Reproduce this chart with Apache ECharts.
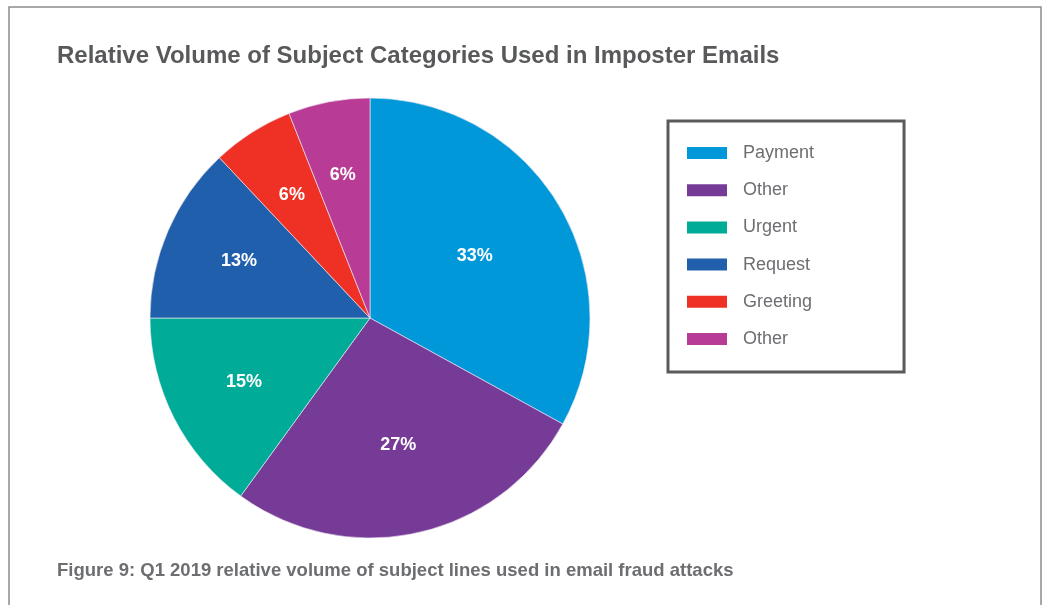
<!DOCTYPE html>
<html>
<head>
<meta charset="utf-8">
<title>Relative Volume of Subject Categories Used in Imposter Emails</title>
<script src="https://cdn.jsdelivr.net/npm/echarts@6/dist/echarts.min.js"></script>
<style>
  html, body { margin: 0; padding: 0; background: #fff; }
  #chart { width: 1044px; height: 605px; }
</style>
</head>
<body>
<div id="chart"></div>
<script>
// Subject categories (the two "Other" groups are kept apart by a trailing space)
const categories = ['Payment', 'Other', 'Urgent', 'Request', 'Greeting', 'Other '];
const shares = [33, 27, 15, 13, 6, 6];
const colors = ['#0098d8', '#763b96', '#00ab98', '#1f5fac', '#ee3124', '#b83c96'];

const FONT = '"Liberation Sans", Arial, Helvetica, sans-serif';

const pieData = categories.map((name, i) => ({
  name: name,
  value: shares[i],
  itemStyle: { color: colors[i] }
}));

const chart = echarts.init(document.getElementById('chart'), null, { renderer: 'canvas' });

// Place each percentage at the centroid of its sector, using the sector
// geometry computed by the pie layout.
function centroidLabel(params) {
  const series = chart.getModel().getSeriesByIndex(params.seriesIndex);
  const lay = series.getData().getItemLayout(params.dataIndex);
  const span = Math.abs(lay.endAngle - lay.startAngle);
  const mid = (lay.startAngle + lay.endAngle) / 2;
  const d = (4 * lay.r * Math.sin(span / 2)) / (3 * span);
  return {
    x: lay.cx + d * Math.cos(mid),
    y: lay.cy + d * Math.sin(mid),
    align: 'center',
    verticalAlign: 'middle'
  };
}

chart.setOption({
  backgroundColor: '#ffffff',
  animation: false,
  title: {
    text: 'Relative Volume of Subject Categories Used in Imposter Emails',
    left: 57,
    top: 44,
    padding: 0,
    textStyle: { fontFamily: FONT, fontSize: 24, fontWeight: 'bold', color: '#58595b' }
  },
  graphic: [
    {
      type: 'rect',
      shape: { x: 9, y: 7, width: 1032, height: 640 },
      style: { fill: 'none', stroke: '#8c8c8c', lineWidth: 1.5 },
      silent: true, z: -1
    },
    {
      type: 'text',
      left: 57,
      top: 561,
      style: {
        text: 'Figure 9: Q1 2019 relative volume of subject lines used in email fraud attacks',
        font: 'bold 18.5px ' + FONT,
        fill: '#6d6e71'
      }
    }
  ],
  legend: {
    orient: 'vertical',
    left: 668,
    top: 121,
    data: categories,
    icon: 'rect',
    itemWidth: 40,
    itemHeight: 12,
    itemGap: 17.2,
    padding: [22, 90, 23, 19],
    borderColor: '#5a5a5a',
    borderWidth: 3,
    selectedMode: false,
    itemStyle: { borderWidth: 0 },
    textStyle: { fontFamily: FONT, fontSize: 18, color: '#6d6e71', lineHeight: 20, padding: [0, 0, 0, 11] }
  },
  series: [
    {
      type: 'pie',
      center: [370, 318],
      radius: [0, 220],
      startAngle: 90,
      clockwise: true,
      data: pieData,
      silent: true,
      itemStyle: { borderColor: '#f4eef6', borderWidth: 0.6 },
      label: {
        show: true,
        position: 'inside',
        formatter: p => p.value + '%',
        fontFamily: FONT,
        fontSize: 18,
        fontWeight: 'bold',
        color: '#ffffff'
      },
      labelLayout: centroidLabel,
      labelLine: { show: false }
    }
  ]
});
</script>
</body>
</html>
